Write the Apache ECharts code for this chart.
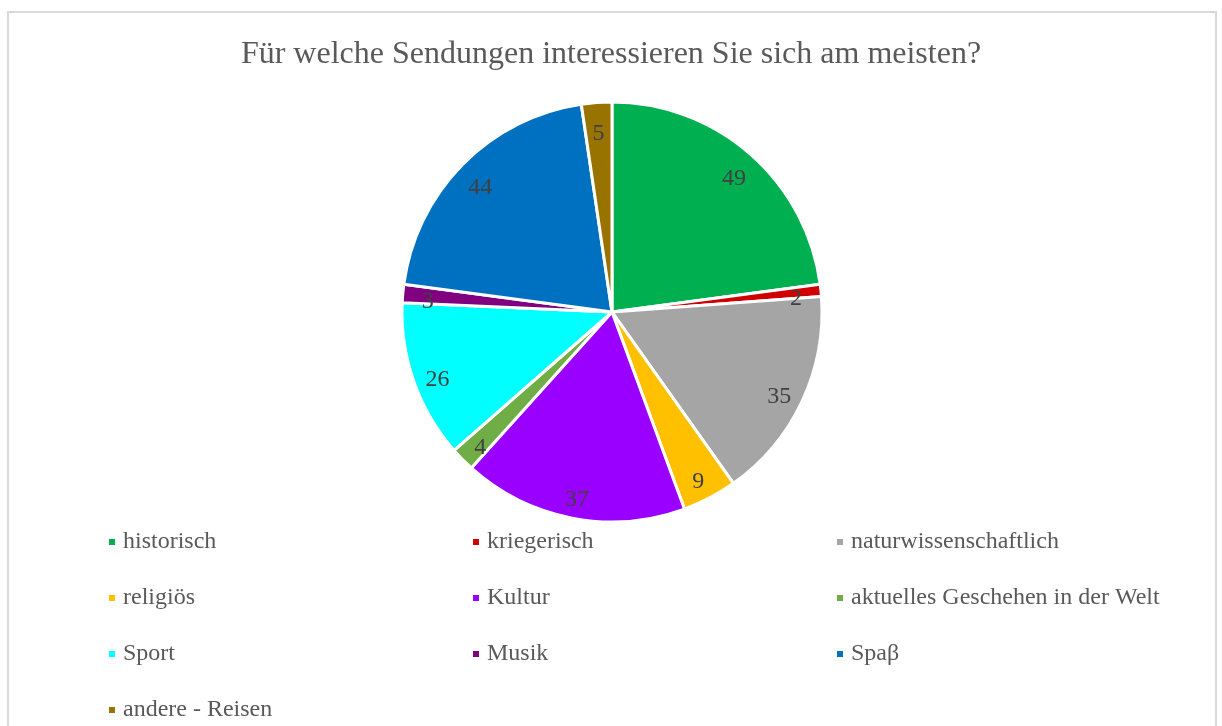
<!DOCTYPE html>
<html>
<head>
<meta charset="utf-8">
<script src="https://cdn.jsdelivr.net/npm/echarts@6/dist/echarts.min.js"></script>
<style>
  html, body { margin: 0; padding: 0; background: #fff; overflow: hidden; }
  #frame { position: absolute; left: 7px; top: 11px; width: 1206px; height: 760px; border: 2px solid #d9d9d9; }
  #chart { position: absolute; left: 0; top: 0; width: 1222px; height: 726px; }
</style>
</head>
<body>
<div id="frame"></div>
<div id="chart"></div>
<script>
const categories = ['historisch', 'kriegerisch', 'naturwissenschaftlich', 'religiös', 'Kultur',
  'aktuelles Geschehen in der Welt', 'Sport', 'Musik', 'Spaβ', 'andere - Reisen'];
const values = [49, 2, 35, 9, 37, 4, 26, 3, 44, 5];
const colors = ['#00B050', '#D00000', '#A5A5A5', '#FFC000', '#9900FF',
  '#70AD47', '#00FFFF', '#800080', '#0070C0', '#997300'];

const chart = echarts.init(document.getElementById('chart'));

const pieData = categories.map((name, i) => ({
  name: name,
  value: values[i],
  itemStyle: { color: colors[i] }
}));

chart.setOption({
  animation: false,
  title: {
    text: 'Für welche Sendungen interessieren Sie sich am meisten?',
    left: 'center',
    top: 34,
    textStyle: { fontFamily: 'Liberation Serif', fontSize: 32, fontWeight: 'normal', color: '#595959' }
  },
  legend: {
    left: 102,
    top: 523,
    width: 1080,
    itemWidth: 8,
    itemHeight: 8,
    itemGap: 28,
    icon: 'rect',
    data: categories,
    textStyle: {
      fontFamily: 'Liberation Serif',
      fontSize: 24,
      color: '#595959',
      width: 320,
      lineHeight: 28,
      padding: [0, 0, 0, 2]
    }
  },
  series: [
    {
      type: 'pie',
      center: [612, 312],
      radius: [0, 210],
      startAngle: 90,
      clockwise: true,
      data: pieData,
      itemStyle: { borderColor: '#fff', borderWidth: 3 },
      label: { show: false },
      labelLine: { show: false },
      emphasis: { disabled: true }
    },
    {
      // transparent ring that only carries the value labels near the outer edge
      type: 'pie',
      center: [612, 318],
      radius: [154, 210],
      startAngle: 90,
      clockwise: true,
      silent: true,
      data: categories.map((name, i) => ({ name: name, value: values[i] })),
      itemStyle: { color: 'rgba(0,0,0,0)', borderWidth: 0 },
      label: {
        show: true,
        position: 'inside',
        formatter: '{c}',
        fontFamily: 'Liberation Serif',
        fontSize: 24,
        color: '#404040'
      },
      labelLine: { show: false },
      legendHoverLink: false,
      emphasis: { disabled: true }
    }
  ]
});
</script>
</body>
</html>
